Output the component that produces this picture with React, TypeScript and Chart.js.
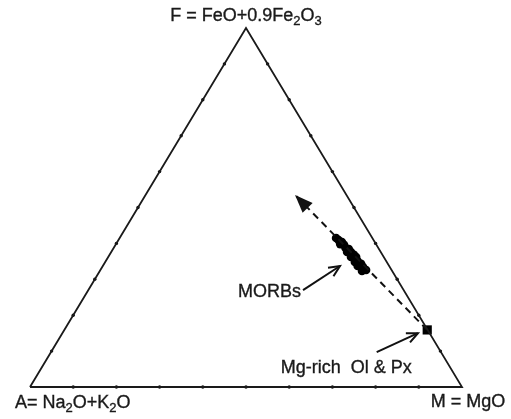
import React, { useEffect, useRef } from "react";
import { Chart, registerables } from "chart.js";

Chart.register(...registerables);

// Ternary data in percent: F = FeO+0.9Fe2O3, M = MgO (A = 100 - F - M)
const MORB_F = [41.5, 40.9, 40.4, 39.8, 39.6, 38.7, 38.4, 37.6, 37.6, 36.8, 36.2, 36.2, 35.1, 34.8, 34.3, 33.7, 33.4, 32.6, 32.3];
const MORB_M = [50.1, 51.0, 52.0, 51.9, 52.9, 53.7, 54.6, 54.6, 55.5, 56.6, 56.2, 57.4, 58.3, 57.8, 59.5, 59.0, 60.4, 61.5, 60.7];

const OLPX_F = [15.9];
const OLPX_M = [84.0];

const TREND_F = [15.9, 53.5];
const TREND_M = [84.0, 34.6];

const MORB_CALLOUT_F = [27.0, 33.7];
const MORB_CALLOUT_M = [49.7, 54.9];
const OLPX_CALLOUT_F = [9.7, 15.0];
const OLPX_CALLOUT_M = [75.4, 82.3];

const TICK_PCTS = [10, 20, 30, 40, 50, 60, 70, 80, 90];

// vertices: A (F=0,M=0), M (F=0,M=100), F (F=100,M=0)
const VERT_F = [0, 0, 100, 0];
const VERT_M = [0, 100, 0, 0];

const toXY = (f: number, m: number) => ({ x: (m + f / 2) / 100, y: f / 100 });
const zipXY = (F: number[], M: number[]) => F.map((f, i) => toXY(f, M[i]));

const FONT = "'Liberation Sans', Arial, sans-serif";
const FS = 18;

type Seg = { t: string; sub?: boolean };

function drawRich(ctx: CanvasRenderingContext2D, segs: Seg[], x: number, y: number, align: "left" | "center" | "right") {
  const subSize = Math.round(FS * 0.72);
  const widths = segs.map((s) => {
    ctx.font = `${s.sub ? subSize : FS}px ${FONT}`;
    return ctx.measureText(s.t).width;
  });
  const total = widths.reduce((a, b) => a + b, 0);
  let cx = align === "left" ? x : align === "center" ? x - total / 2 : x - total;
  ctx.textBaseline = "middle";
  ctx.textAlign = "left";
  ctx.lineWidth = 0.35;
  segs.forEach((s, i) => {
    ctx.font = `${s.sub ? subSize : FS}px ${FONT}`;
    const yy = s.sub ? y + FS * 0.3 : y;
    ctx.fillText(s.t, cx, yy);
    ctx.strokeText(s.t, cx, yy);
    cx += widths[i];
  });
}

const labelPlugin = {
  id: "ternaryLabels",
  afterDatasetsDraw(chart: any) {
    const ctx = chart.ctx as CanvasRenderingContext2D;
    const xs = chart.scales.x;
    const ys = chart.scales.y;
    const px = (p: { x: number; y: number }) => ({ x: xs.getPixelForValue(p.x), y: ys.getPixelForValue(p.y) });

    // arrowheads
    chart.data.datasets.forEach((ds: any) => {
      if (!ds.arrow) return;
      const n = ds.data.length;
      const a = px(ds.data[n - 2]);
      const b = px(ds.data[n - 1]);
      const ang = Math.atan2(b.y - a.y, b.x - a.x);
      ctx.save();
      ctx.fillStyle = "#111";
      ctx.strokeStyle = "#111";
      if (ds.arrow === "filled") {
        const L = 18, W = 7;
        ctx.beginPath();
        ctx.moveTo(b.x, b.y);
        ctx.lineTo(b.x - L * Math.cos(ang) + W * Math.sin(ang), b.y - L * Math.sin(ang) - W * Math.cos(ang));
        ctx.lineTo(b.x - L * Math.cos(ang) - W * Math.sin(ang), b.y - L * Math.sin(ang) + W * Math.cos(ang));
        ctx.closePath();
        ctx.fill();
      } else {
        const L = 11, W = 5;
        ctx.lineWidth = 2;
        ctx.beginPath();
        ctx.moveTo(b.x - L * Math.cos(ang) + W * Math.sin(ang), b.y - L * Math.sin(ang) - W * Math.cos(ang));
        ctx.lineTo(b.x, b.y);
        ctx.lineTo(b.x - L * Math.cos(ang) - W * Math.sin(ang), b.y - L * Math.sin(ang) + W * Math.cos(ang));
        ctx.stroke();
      }
      ctx.restore();
    });

    ctx.save();
    ctx.fillStyle = "#1a1a1a";
    ctx.strokeStyle = "#1a1a1a";
    const vA = px(toXY(VERT_F[0], VERT_M[0]));
    const vM = px(toXY(VERT_F[1], VERT_M[1]));
    const vF = px(toXY(VERT_F[2], VERT_M[2]));
    drawRich(ctx, [{ t: "F = FeO+0.9Fe" }, { t: "2", sub: true }, { t: "O" }, { t: "3", sub: true }], vF.x, vF.y - 12, "center");
    drawRich(ctx, [{ t: "A= Na" }, { t: "2", sub: true }, { t: "O+K" }, { t: "2", sub: true }, { t: "O" }], vA.x - 15, vA.y + 16, "left");
    drawRich(ctx, [{ t: "M = MgO" }], vM.x + 6, vM.y + 15, "center");
    const mc = px(toXY(MORB_CALLOUT_F[0], MORB_CALLOUT_M[0]));
    drawRich(ctx, [{ t: "MORBs" }], mc.x - 2, mc.y + 2, "right");
    const oc = px(toXY(OLPX_CALLOUT_F[0], OLPX_CALLOUT_M[0]));
    drawRich(ctx, [{ t: "Mg-rich  Ol & Px" }], oc.x + 35, oc.y + 16, "right");
    ctx.restore();
  },
};

export default function App() {
  const ref = useRef<HTMLCanvasElement | null>(null);

  useEffect(() => {
    if (!ref.current) return;
    const tickPts: { x: number; y: number }[] = [];
    TICK_PCTS.forEach((p) => {
      tickPts.push(toXY(0, p)); // A-M side
      tickPts.push(toXY(p, 0)); // A-F side
      tickPts.push(toXY(p, 100 - p)); // F-M side
    });

    const chart = new Chart(ref.current, {
      type: "scatter",
      data: {
        datasets: [
          {
            type: "line",
            data: zipXY(VERT_F, VERT_M),
            borderColor: "#1a1a1a",
            borderWidth: 1.8,
            pointRadius: 0,
            clip: false,
          } as any,
          {
            data: tickPts,
            backgroundColor: "#111",
            borderWidth: 0,
            pointRadius: 1.7,
            clip: false,
          } as any,
          {
            type: "line",
            data: zipXY(TREND_F, TREND_M),
            borderColor: "#111",
            borderWidth: 2,
            borderDash: [7, 5],
            pointRadius: 0,
            arrow: "filled",
            clip: false,
          } as any,
          {
            data: zipXY(MORB_F, MORB_M),
            backgroundColor: "#000",
            borderColor: "#000",
            borderWidth: 0,
            pointRadius: 4.3,
            clip: false,
          } as any,
          {
            data: zipXY(OLPX_F, OLPX_M),
            backgroundColor: "#000",
            borderWidth: 0,
            pointStyle: "rect",
            pointRadius: 6.5,
            clip: false,
          } as any,
          {
            type: "line",
            data: zipXY(MORB_CALLOUT_F, MORB_CALLOUT_M),
            borderColor: "#111",
            borderWidth: 2,
            pointRadius: 0,
            arrow: "open",
            clip: false,
          } as any,
          {
            type: "line",
            data: zipXY(OLPX_CALLOUT_F, OLPX_CALLOUT_M),
            borderColor: "#111",
            borderWidth: 2,
            pointRadius: 0,
            arrow: "open",
            clip: false,
          } as any,
        ],
      },
      options: {
        responsive: false,
        animation: false,
        layout: { padding: { left: 30, right: 49, top: 28, bottom: 32 } },
        scales: {
          x: { type: "linear", min: 0, max: 1, display: false },
          y: { type: "linear", min: 0, max: 1, display: false },
        },
        plugins: { legend: { display: false }, tooltip: { enabled: false } },
      },
      plugins: [labelPlugin],
    });
    return () => chart.destroy();
  }, []);

  return (
    <div style={{ position: "fixed", left: 0, top: 0, width: 511, height: 419, background: "#fff" }}>
      <canvas ref={ref} width={511} height={419} style={{ width: 511, height: 419 }} />
    </div>
  );
}
